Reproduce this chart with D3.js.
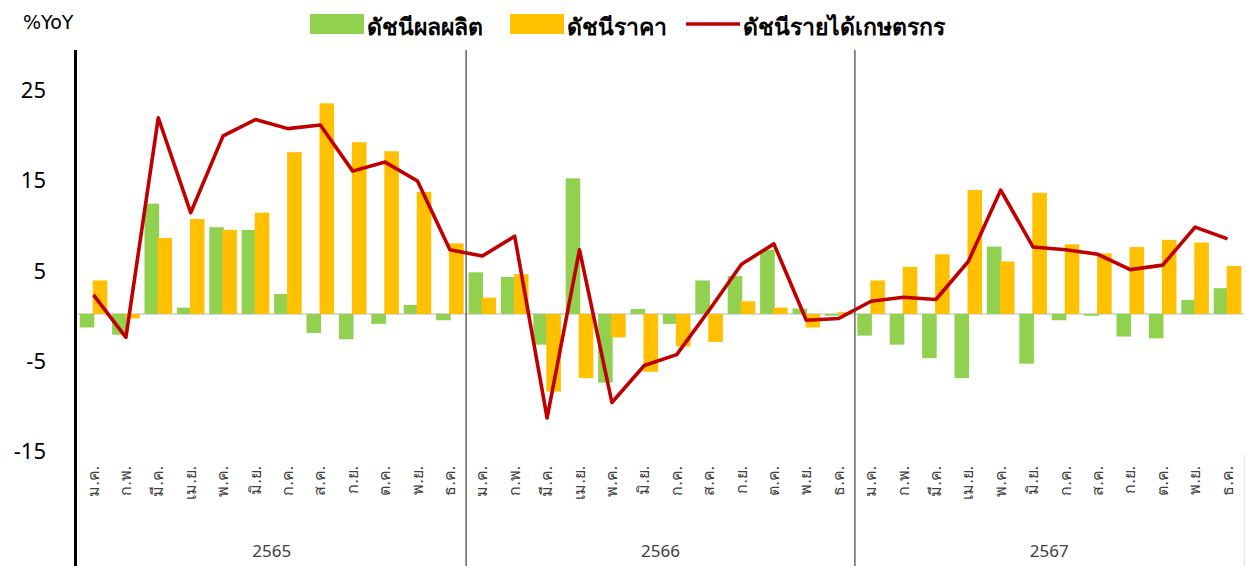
<!DOCTYPE html>
<html>
<head>
<meta charset="utf-8">
<script src="https://cdn.jsdelivr.net/npm/d3@7"></script>
<style>
body{margin:0;background:#fff;}
svg{font-family:"Noto Sans","Open Sans",sans-serif;}
</style>
</head>
<body>
<div id="chart"></div>
<script>
const width=1247;
const height=566;
const years=["2565","2566","2567"];
const months=["ม.ค.","ก.พ.","มี.ค.","เม.ย.","พ.ค.","มิ.ย.","ก.ค.","ส.ค.","ก.ย.","ต.ค.","พ.ย.","ธ.ค."];
const production=[-1.5,-2.3,12.2,0.7,9.6,9.3,2.2,-2.1,-2.8,-1.1,1.0,-0.7,
    4.6,4.1,-3.4,15.0,-7.6,0.55,-1.1,3.7,4.2,7.1,0.6,-0.2,
    -2.4,-3.4,-4.9,-7.1,7.45,-5.5,-0.7,-0.2,-2.5,-2.7,1.55,2.85];
const price=[3.7,-0.5,8.4,10.5,9.3,11.2,17.9,23.3,19.0,18.0,13.5,7.8,
    1.8,4.4,-8.6,-7.1,-2.6,-6.4,-3.6,-3.1,1.4,0.7,-1.5,0.2,
    3.7,5.2,6.6,13.7,5.8,13.4,7.7,6.7,7.4,8.2,7.9,5.3];
const income=[2.1,-2.6,21.7,11.2,19.7,21.5,20.5,20.9,15.8,16.8,14.7,7.1,
    6.4,8.6,-11.5,7.1,-9.8,-5.7,-4.5,0.4,5.5,7.75,-0.7,-0.5,
    1.4,1.85,1.6,5.8,13.7,7.4,7.1,6.6,4.9,5.4,9.6,8.3];
const yticks=[-15,-5,5,15,25];
const legendItems=[
    {label:"ดัชนีผลผลิต",type:"bar",color:"#92d050"},
    {label:"ดัชนีราคา",type:"bar",color:"#ffc000"},
    {label:"ดัชนีรายได้เกษตรกร",type:"line",color:"#c00000"}
];

const plot={left:77.3,right:1243.7,top:50,bottom:449.5};
const idx=d3.range(production.length);
const svg=d3.select("#chart").append("svg").attr("width",width).attr("height",height);

const x=d3.scaleBand().domain(idx).range([plot.left,plot.right]).padding(0);
const y=d3.scaleLinear().domain([-15,29.2]).range([plot.bottom,plot.top]);
const sub=d3.scaleBand().domain(["prod","price"]).range([-13.8,13.8]).padding(0);
const cx=i=>x(i)+x.bandwidth()/2;

// zero line
svg.append("line")
    .attr("x1",plot.left).attr("x2",plot.right)
    .attr("y1",y(0)).attr("y2",y(0))
    .attr("stroke","#d9d9d9").attr("stroke-width",2);

// bars
svg.append("g").selectAll("rect").data(production).enter().append("rect")
    .attr("x",(d,i)=>cx(i)+sub("prod"))
    .attr("width",sub.bandwidth()+0.8)
    .attr("y",d=>y(Math.max(0,d)))
    .attr("height",d=>Math.abs(y(d)-y(0)))
    .attr("fill","#92d050");
svg.append("g").selectAll("rect").data(price).enter().append("rect")
    .attr("x",(d,i)=>cx(i)+sub("price")-0.8)
    .attr("width",sub.bandwidth()+0.8)
    .attr("y",d=>y(Math.max(0,d)))
    .attr("height",d=>Math.abs(y(d)-y(0)))
    .attr("fill","#ffc000");

// income line
const line=d3.line().x((d,i)=>cx(i)).y(d=>y(d));
svg.append("path").datum(income)
    .attr("d",line)
    .attr("fill","none")
    .attr("stroke","#c00000")
    .attr("stroke-width",3.6)
    .attr("stroke-linejoin","round");

// year separators
years.forEach((yr,k)=>{
    if(k>0){
        svg.append("line")
            .attr("x1",x(k*12)).attr("x2",x(k*12))
            .attr("y1",plot.top).attr("y2",height)
            .attr("stroke","#404040").attr("stroke-width",1.2);
    }
    const x0=x(k*12),x1=k===years.length-1?plot.right:x((k+1)*12);
    svg.append("text")
        .attr("x",(x0+x1)/2).attr("y",557)
        .attr("text-anchor","middle")
        .attr("font-size",17)
        .attr("fill","#404040")
        .text(yr);
});
svg.append("line")
    .attr("x1",plot.right+0.5).attr("x2",plot.right+0.5)
    .attr("y1",455).attr("y2",height)
    .attr("stroke","#e0e0e0").attr("stroke-width",1);

// month labels
svg.append("g").selectAll("text").data(idx).enter().append("text")
    .attr("transform",i=>`translate(${cx(i)+5},466) rotate(-90)`)
    .attr("text-anchor","end")
    .attr("font-size",16)
    .attr("fill","#404040")
    .text(i=>months[i%12]);

// y axis
svg.append("line")
    .attr("x1",75.5).attr("x2",75.5)
    .attr("y1",plot.top).attr("y2",height)
    .attr("stroke","#000").attr("stroke-width",3);
svg.append("g").selectAll("text").data(yticks).enter().append("text")
    .attr("x",46).attr("y",d=>y(d)+4)
    .attr("text-anchor","end")
    .attr("dominant-baseline","middle")
    .attr("font-size",22)
    .attr("fill","#000")
    .text(d=>d);
svg.append("text")
    .attr("x",23).attr("y",29)
    .attr("font-family","DejaVu Sans")
    .attr("font-size",19)
    .attr("fill","#000")
    .text("%YoY");

// legend
const lx=[310,510,686];
legendItems.forEach((d,k)=>{
    const g=svg.append("g").attr("transform",`translate(${lx[k]},0)`);
    if(d.type==="bar"){
        g.append("rect").attr("x",0).attr("y",14).attr("width",54).attr("height",20).attr("fill",d.color);
    } else {
        g.append("line").attr("x1",0).attr("x2",54).attr("y1",24).attr("y2",24)
            .attr("stroke",d.color).attr("stroke-width",3.6);
    }
    g.append("text")
        .attr("x",57).attr("y",35)
        .attr("font-size",23).attr("font-weight","bold")
        .attr("fill","#000")
        .text(d.label);
});
</script>
</body>
</html>
